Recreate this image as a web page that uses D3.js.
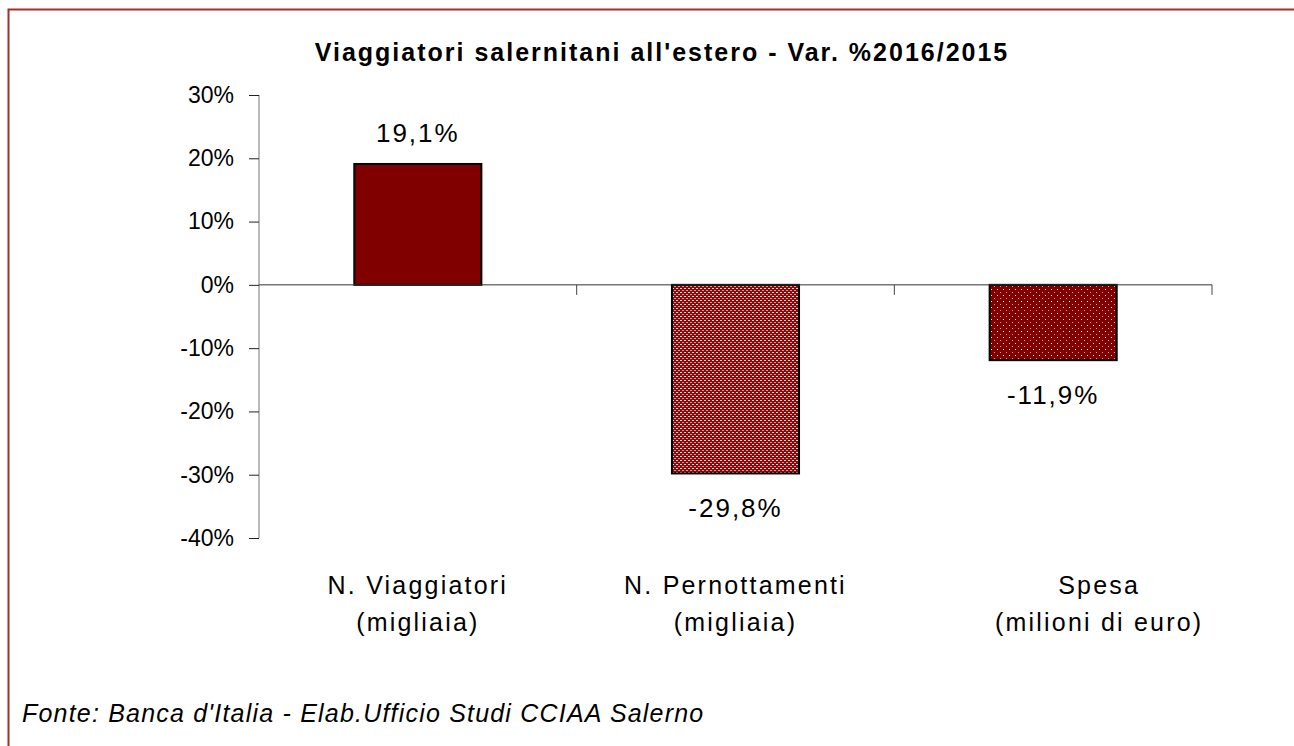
<!DOCTYPE html>
<html>
<head>
<meta charset="utf-8">
<script src="https://cdn.jsdelivr.net/npm/d3@7"></script>
<style>
  body { margin: 0; background: #fff; }
  svg { font-family: "Liberation Sans", Arial, sans-serif; }
</style>
</head>
<body>
<div id="chart"></div>
<script>
// data
var categories = [["N. Viaggiatori", "(migliaia)"], ["N. Pernottamenti", "(migliaia)"], ["Spesa", "(milioni di euro)"]];
var values = [0.191, -0.298, -0.119];
var valueLabels = ["19,1%", "-29,8%", "-11,9%"];
var yTicks = [0.3, 0.2, 0.1, 0, -0.1, -0.2, -0.3, -0.4];
var fills = ["#800000", "url(#checks)", "url(#dots)"];

var width = 1294, height = 746;

var svg = d3.select("#chart").append("svg")
    .attr("width", width)
    .attr("height", height);

var defs = svg.append("defs");

// small checkered pattern (second bar)
var p1 = defs.append("pattern")
    .attr("id", "checks")
    .attr("patternUnits", "userSpaceOnUse")
    .attr("width", 4).attr("height", 4);
p1.append("rect").attr("width", 4).attr("height", 4).attr("fill", "#8a0a0a");
p1.append("rect").attr("x", 0).attr("y", 0).attr("width", 2).attr("height", 1).attr("fill", "#f4d8d8");
p1.append("rect").attr("x", 2).attr("y", 2).attr("width", 2).attr("height", 1).attr("fill", "#d99a9a");

// sparse dots (third bar)
var p2 = defs.append("pattern")
    .attr("id", "dots")
    .attr("patternUnits", "userSpaceOnUse")
    .attr("width", 6).attr("height", 6);
p2.append("rect").attr("width", 6).attr("height", 6).attr("fill", "#800000");
p2.append("rect").attr("x", 1).attr("y", 1).attr("width", 1).attr("height", 1).attr("fill", "#ffffff");
p2.append("rect").attr("x", 4).attr("y", 4).attr("width", 1).attr("height", 1).attr("fill", "#d8a0a0");

// outer frame (dark red, left + top)
svg.append("path")
    .attr("d", "M8.5," + height + " V9.5 H" + width)
    .attr("fill", "none")
    .attr("stroke", "#a0302a")
    .attr("stroke-width", 2);

var x = d3.scaleBand()
    .domain(d3.range(categories.length))
    .range([259, 1212])
    .paddingInner(0.6)
    .paddingOuter(0.3);

var y = d3.scaleLinear()
    .domain([-0.4, 0.3])
    .range([538, 95]);

// title
svg.append("text")
    .attr("x", 662)
    .attr("y", 61)
    .attr("text-anchor", "middle")
    .attr("font-size", "25px")
    .attr("font-weight", "bold")
    .attr("letter-spacing", "2px")
    .text("Viaggiatori salernitani all'estero - Var. %2016/2015");

// y axis
var yAxis = d3.axisLeft(y)
    .tickValues(yTicks)
    .tickSize(10)
    .tickPadding(15)
    .tickFormat(function (d) { return Math.round(d * 100) + "%"; });

var gy = svg.append("g")
    .attr("transform", "translate(259,0)")
    .call(yAxis);
gy.select(".domain").attr("stroke", "#777").attr("d", "M0," + y(0.3) + "V" + y(-0.4));
gy.selectAll(".tick line").attr("stroke", "#222");
gy.selectAll(".tick text")
    .attr("font-size", "23px")
    .attr("fill", "#000")
    .attr("font-family", "Liberation Sans, Arial, sans-serif");

// bars
svg.selectAll("rect.bar")
    .data(values)
    .enter()
    .append("rect")
    .attr("class", "bar")
    .attr("x", function (d, i) { return x(i); })
    .attr("y", function (d) { return y(Math.max(0, d)); })
    .attr("width", x.bandwidth())
    .attr("height", function (d) { return Math.abs(y(d) - y(0)); })
    .attr("fill", function (d, i) { return fills[i]; })
    .attr("stroke", "#000")
    .attr("stroke-width", 2);

// x axis line at zero with category ticks
var xAxisG = svg.append("g");
xAxisG.append("line")
    .attr("x1", 259).attr("x2", 1212)
    .attr("y1", y(0)).attr("y2", y(0))
    .attr("stroke", "#333")
    .attr("stroke-width", 1);
var step = x.step();
xAxisG.selectAll("line.tk")
    .data(d3.range(1, categories.length + 1))
    .enter()
    .append("line")
    .attr("class", "tk")
    .attr("x1", function (d) { return 259 + d * step; })
    .attr("x2", function (d) { return 259 + d * step; })
    .attr("y1", y(0))
    .attr("y2", y(0) + 10)
    .attr("stroke", "#444");

// value labels
svg.selectAll("text.val")
    .data(values)
    .enter()
    .append("text")
    .attr("class", "val")
    .attr("x", function (d, i) { return x(i) + x.bandwidth() / 2; })
    .attr("y", function (d) { return d >= 0 ? y(d) - 22 : y(d) + 44; })
    .attr("text-anchor", "middle")
    .attr("font-size", "26px")
    .attr("letter-spacing", "2px")
    .text(function (d, i) { return valueLabels[i]; });

// category labels (the last one sits a bit to the right, as in the original)
var labelShift = function (i) { return i === 2 ? 46 : 0; };
var cat = svg.selectAll("text.cat")
    .data(categories)
    .enter()
    .append("text")
    .attr("class", "cat")
    .attr("text-anchor", "middle")
    .attr("font-size", "25px")
    .attr("letter-spacing", "2.2px");
cat.each(function (d, i) {
    var t = d3.select(this);
    var cx = x(i) + x.bandwidth() / 2 + labelShift(i);
    d.forEach(function (line, j) {
        t.append("tspan")
            .attr("x", cx)
            .attr("y", 594 + j * 37)
            .text(line);
    });
});

// source note
svg.append("text")
    .attr("x", 22)
    .attr("y", 722)
    .attr("font-size", "25px")
    .attr("font-style", "italic")
    .attr("letter-spacing", "1.2px")
    .text("Fonte: Banca d'Italia - Elab.Ufficio Studi CCIAA Salerno");
</script>
</body>
</html>
